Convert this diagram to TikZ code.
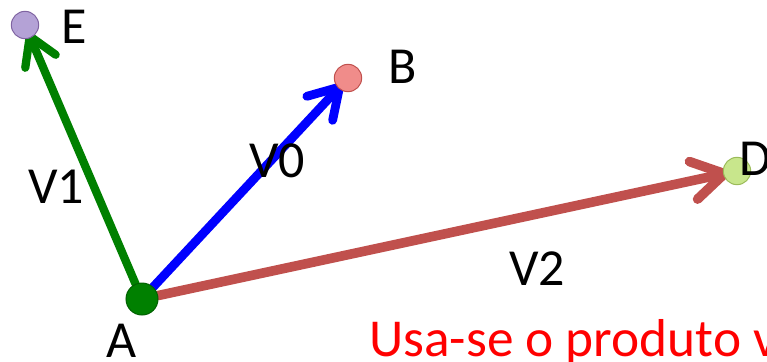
\documentclass[tikz,border=0pt]{standalone}
\usepackage{fontspec}
\setmainfont{Carlito}
\usetikzlibrary{arrows.meta, backgrounds}
\definecolor{vgreen}{RGB}{0,128,0}
\definecolor{vgreendark}{RGB}{0,96,0}
\definecolor{vblue}{RGB}{0,0,255}
\definecolor{vred}{RGB}{192,80,77}
\definecolor{vpurple}{RGB}{128,100,162}
\definecolor{vpurplefill}{RGB}{180,162,214}
\definecolor{vredfill}{RGB}{240,140,138}
\definecolor{vlime}{RGB}{155,187,89}
\definecolor{vlimefill}{RGB}{200,230,140}
\definecolor{vnote}{RGB}{255,0,0}
\tikzset{
  vpoint/.style = {circle, line width=0.75pt, inner sep=0pt, minimum size=20.5pt},
  ptlab/.style  = {anchor=base west, inner sep=0pt, text=black,
                   font=\fontsize{39}{41}\selectfont},
  vec/.style    = {-{Straight Barb[length=0pt 3.3, width=0pt 4, round]}, line cap=round,
                   shorten >=6pt},
  vecE/.style   = {vec, draw=vgreen, line width=6.2pt},
  vecB/.style   = {vec, draw=vblue, line width=6.6pt},
  vecD/.style   = {vec, draw=vred, line width=7.2pt},
}
\begin{document}
\begin{tikzpicture}[x=0.75pt, y=-0.75pt]
\useasboundingbox (0,0) rectangle (767,361);

% ---------- Points ----------
\node[vpoint, draw=vgreendark, fill=vgreen, minimum size=24pt] (A) at (142,299) {};
\node[vpoint, draw=vpurple, fill=vpurplefill] (E) at (25,25) {};
\node[vpoint, draw=vred, fill=vredfill] (B) at (348,78) {};
\node[vpoint, draw=vlime, fill=vlimefill] (D) at (737,171) {};

% ---------- Labels ----------
\node[ptlab] (labA) at (106,357) {A};
\node[ptlab] (labE) at (61,43) {E};
\node[ptlab] (labB) at (388,83) {B};
\node[ptlab] (labD) at (739,175) {D};
\node[ptlab] (labV0) at (249,177) {V0};
\node[ptlab] (labV1) at (28,203) {V1};
\node[ptlab] (labV2) at (509,285) {V2};
\node[ptlab, text=vnote, font=\fontsize{40}{42}\selectfont] (note) at (369,356) {Usa-se o produto v};

% ---------- Vectors ----------
\begin{scope}[on background layer]
\draw[vecE] (A) -- (E.center);
\draw[vecB] (A) -- (B.center);
\draw[vecD] (A) -- (D.center);
\end{scope}

\end{tikzpicture}
\end{document}
